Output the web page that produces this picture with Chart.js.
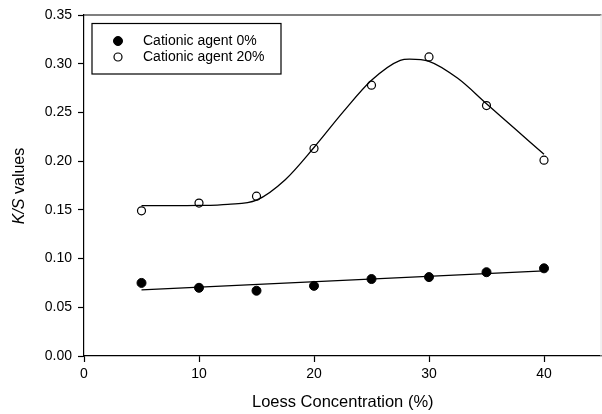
<!DOCTYPE html>
<html>
<head>
<meta charset="utf-8">
<script src="https://cdn.jsdelivr.net/npm/chart.js@4/dist/chart.umd.min.js"></script>
<style>
  html, body { margin: 0; padding: 0; background: #fff; overflow: hidden; }
  #chart { display: block; }
</style>
</head>
<body>
<!-- a few px wider than the page so the plot frame reaches the right edge -->
<canvas id="chart" width="607" height="414"></canvas>
<script>
// measured K/S values
const loess = [5, 10, 15, 20, 25, 30, 35, 40];
const ks0 = [0.075, 0.070, 0.067, 0.072, 0.079, 0.081, 0.086, 0.090];
const ks20 = [0.149, 0.157, 0.164, 0.213, 0.278, 0.307, 0.257, 0.201];

// fitted curves
const fitX0 = [5, 40];
const fitY0 = [0.0678, 0.0873];
const fitX20 = [5, 7.5, 10, 12.5, 15, 17.5, 20, 22.5, 25, 27.5, 28.3, 30, 32.5, 35, 37.5, 40];
const fitY20 = [0.1543, 0.1543, 0.1545, 0.1557, 0.1600, 0.181, 0.214, 0.250, 0.283, 0.3035, 0.3047, 0.3025, 0.285, 0.259, 0.233, 0.207];

const xTicks = [0, 10, 20, 30, 40];
const seriesLabels = ["Cationic agent 0%", "Cationic agent 20%"];

const FONT = "'Liberation Sans', Arial, sans-serif";

function pairs(xs, ys) {
  return xs.map((x, i) => ({ x: x, y: ys[i] }));
}

// top frame line, boxed legend and the y title (K/S in italics)
const extras = {
  id: "extras",
  afterDraw(chart) {
    const { ctx, chartArea: a } = chart;
    ctx.save();
    ctx.strokeStyle = "#000";
    ctx.lineWidth = 1.2;
    ctx.beginPath();
    ctx.moveTo(a.left, a.top);
    ctx.lineTo(a.right, a.top);
    ctx.stroke();
    ctx.strokeStyle = "#e4e4e4";
    ctx.lineWidth = 1;
    ctx.beginPath();
    ctx.moveTo(a.right - 0.5, a.top);
    ctx.lineTo(a.right - 0.5, a.bottom);
    ctx.stroke();

    // legend
    ctx.strokeStyle = "#000";
    ctx.lineWidth = 1.2;
    ctx.strokeRect(92, 23.5, 189, 50.5);
    ctx.font = "14px " + FONT;
    ctx.fillStyle = "#000";
    ctx.textBaseline = "middle";
    [0, 1].forEach((i) => {
      const ds = chart.data.datasets[i];
      const y = 41 + i * 16;
      ctx.beginPath();
      ctx.arc(118, y, ds.pointRadius, 0, Math.PI * 2);
      if (ds.pointBackgroundColor !== "transparent") {
        ctx.fillStyle = ds.pointBackgroundColor;
        ctx.fill();
      }
      ctx.lineWidth = ds.pointBorderWidth;
      ctx.stroke();
      ctx.fillStyle = "#000";
      ctx.fillText(ds.label, 143, y + 0.5);
    });

    // y axis title
    ctx.translate(20, 186);
    ctx.rotate(-Math.PI / 2);
    ctx.font = "italic 16px " + FONT;
    const w1 = ctx.measureText("K/S").width;
    ctx.font = "16px " + FONT;
    const w2 = ctx.measureText(" values").width;
    const start = -(w1 + w2) / 2;
    ctx.textAlign = "left";
    ctx.font = "italic 16px " + FONT;
    ctx.fillText("K/S", start, 0);
    ctx.font = "16px " + FONT;
    ctx.fillText(" values", start + w1, 0);
    ctx.restore();
  }
};

new Chart(document.getElementById("chart"), {
  type: "scatter",
  data: {
    datasets: [
      {
        label: seriesLabels[0],
        data: pairs(loess, ks0),
        pointRadius: 4.5,
        pointBackgroundColor: "#000",
        pointBorderColor: "#000",
        pointBorderWidth: 1,
        showLine: false,
        order: 0
      },
      {
        label: seriesLabels[1],
        data: pairs(loess, ks20),
        pointRadius: 4,
        pointBackgroundColor: "transparent",
        pointBorderColor: "#000",
        pointBorderWidth: 1.2,
        showLine: false,
        order: 0
      },
      {
        label: "fit 0%",
        data: pairs(fitX0, fitY0),
        showLine: true,
        pointRadius: 0,
        borderColor: "#000",
        borderWidth: 1.3,
        order: 1
      },
      {
        label: "fit 20%",
        data: pairs(fitX20, fitY20),
        showLine: true,
        pointRadius: 0,
        borderColor: "#000",
        borderWidth: 1.3,
        cubicInterpolationMode: "monotone",
        order: 1
      }
    ]
  },
  options: {
    responsive: false,
    animation: false,
    layout: { padding: { top: 15, right: 0, left: 0, bottom: 0 } },
    plugins: {
      legend: { display: false },
      tooltip: { enabled: false }
    },
    scales: {
      x: {
        type: "linear",
        min: 0,
        max: 45,
        afterBuildTicks: (axis) => {
          axis.ticks = xTicks.map((v) => ({ value: v }));
        },
        afterFit: (axis) => { axis.height = 58; },
        grid: {
          drawOnChartArea: false,
          tickLength: 6,
          tickColor: "#000",
          tickWidth: 1.2
        },
        border: { color: "#000", width: 1.2 },
        ticks: {
          color: "#000",
          font: { family: FONT, size: 14 },
          padding: 4,
          maxRotation: 0
        },
        title: {
          display: true,
          text: "Loess Concentration (%)",
          color: "#000",
          font: { family: FONT, size: 16.5 },
          padding: { top: 0, bottom: 2 }
        }
      },
      y: {
        min: 0,
        max: 0.35,
        afterFit: (axis) => { axis.width = 84; },
        grid: {
          drawOnChartArea: false,
          tickLength: 6,
          tickColor: "#000",
          tickWidth: 1.2
        },
        border: { color: "#000", width: 1.2 },
        ticks: {
          stepSize: 0.05,
          color: "#000",
          font: { family: FONT, size: 14 },
          padding: 6,
          callback: (v) => v.toFixed(2)
        }
      }
    }
  },
  plugins: [extras]
});
</script>
</body>
</html>
